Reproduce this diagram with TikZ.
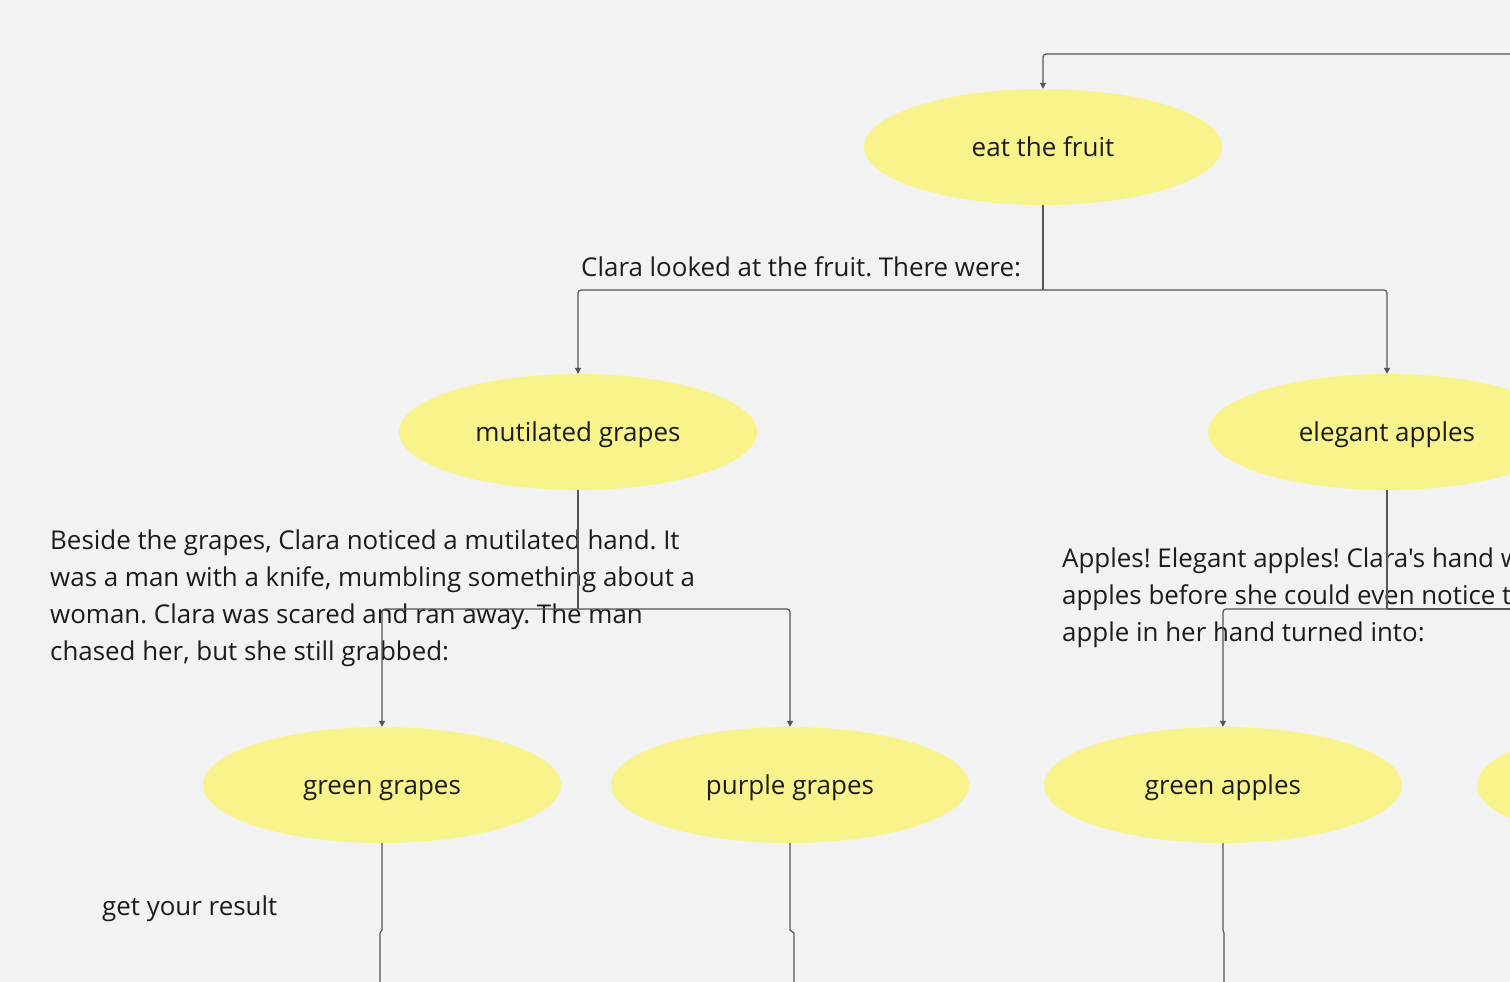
\documentclass[tikz,border=0pt]{standalone}
\usepackage{fontspec}
\setmainfont{Open Sans}[Ligatures=TeXOff]
\usetikzlibrary{shapes.geometric,arrows.meta}
\definecolor{bg}{HTML}{F2F2F2}
\definecolor{fruit}{HTML}{F9F38C}
\definecolor{linec}{HTML}{555555}
\definecolor{txt}{HTML}{1C1C1C}
\tikzset{
  choice/.style={ellipse, fill=fruit, draw=none, minimum width=358pt, minimum height=116pt, inner sep=0pt, text height=22pt, text depth=4pt, text=txt, font=\fontsize{26}{32}\selectfont},
  conn/.style={draw=linec, line width=1.2pt, rounded corners=3pt, -{Triangle[length=6pt,width=6pt]}},
  plain/.style={draw=linec, line width=1.2pt, rounded corners=3pt},
  story/.style={anchor=base west, inner sep=0pt, text=txt, align=left, font=\fontsize{25.9}{37}\selectfont\frenchspacing}
}
\begin{document}
\begin{tikzpicture}[x=1pt,y=-1pt]
\useasboundingbox (0,0) rectangle (1510,982);
\clip (0,0) rectangle (1510,982);
\fill[bg] (0,0) rectangle (1510,982);

\node[choice] (eat) at (1043,147) {eat the fruit};
\node[choice] (mg) at (578,432) {mutilated grapes};
\node[choice] (ea) at (1387,432) {elegant apples};
\node[choice] (gg) at (382,785) {green grapes};
\node[choice] (pg) at (790,785) {purple grapes};
\node[choice] (ga) at (1223,785) {green apples};
\node[choice] (x4) at (1656,785) {};

\node[story] (t1) at (581,276) {Clara looked at the fruit. There were:};
\node[story] (t2) at (50,660) {Beside the grapes, Clara noticed a mutilated hand. It\\was a man with a knife, mumbling something about a\\woman. Clara was scared and ran away. The man\\chased her, but she still grabbed:};
\node[story] (t3) at (1062,641) {Apples! Elegant apples! Clara's hand w\\apples before she could even notice t\\apple in her hand turned into:};
\node[story] (t4) at (102,915) {get your result};

\coordinate (in0) at (1520,54);
\coordinate (j1) at (1043,290);
\coordinate (j2) at (578,609);
\coordinate (j3) at (1387,609);
\coordinate (o3) at (1520,609);

\draw[conn] (in0) -| (eat.north);
\draw[plain] (eat.south) -- (j1);
\draw[conn] (j1) -| (mg.north);
\draw[conn] (j1) -| (ea.north);
\draw[plain] (mg.south) -- (j2);
\draw[conn] (j2) -| (gg.north);
\draw[conn] (j2) -| (pg.north);
\draw[plain] (ea.south) -- (j3);
\draw[conn] (j3) -| (ga.north);
\draw[plain] (j3) -- (o3);

\coordinate (a1) at (382,930); \coordinate (a2) at (380,933); \coordinate (a3) at (380,990);
\coordinate (b1) at (790,930); \coordinate (b2) at (794,933); \coordinate (b3) at (794,990);
\coordinate (c1) at (1223,930); \coordinate (c2) at (1224,933); \coordinate (c3) at (1224,990);
\draw[line width=1.2pt, draw=linec] (gg.south) -- (a1) -- (a2) -- (a3);
\draw[line width=1.2pt, draw=linec] (pg.south) -- (b1) -- (b2) -- (b3);
\draw[line width=1.2pt, draw=linec] (ga.south) -- (c1) -- (c2) -- (c3);
\end{tikzpicture}
\end{document}
